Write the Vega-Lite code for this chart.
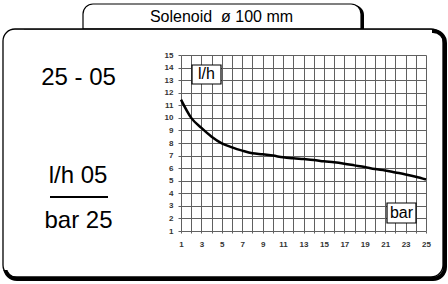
{
  "$schema": "https://vega.github.io/schema/vega-lite/v6.json",
  "width": 245,
  "height": 176,
  "autosize": {"type": "none"},
  "padding": {"left": 181, "top": 55, "right": 22, "bottom": 53},
  "background": "white",
  "config": {"view": {"stroke": null}, "font": "Liberation Sans"},
  "layer": [
    {
      "data": {"values": [{}]},
      "mark": {"type": "rect", "fill": "black", "cornerRadiusTopLeft": 10, "cornerRadiusTopRight": 10},
      "encoding": {
        "x": {"datum": -8.306, "type": "quantitative", "scale": {"domain": [1, 25], "nice": false, "zero": false}, "title": null},
        "x2": {"datum": 18.927},
        "y": {"datum": 18.977, "type": "quantitative", "scale": {"domain": [1, 15], "nice": false, "zero": false}, "title": null},
        "y2": {"datum": 17.068}
      }
    },
    {
      "data": {"values": [{}]},
      "mark": {"type": "rect", "fill": "white", "stroke": "black", "strokeWidth": 1.2, "cornerRadiusTopLeft": 10, "cornerRadiusTopRight": 10},
      "encoding": {
        "x": {"datum": -8.6, "type": "quantitative", "title": null},
        "x2": {"datum": 18.633},
        "y": {"datum": 19.057, "type": "quantitative", "title": null},
        "y2": {"datum": 17.068}
      }
    },
    {
      "data": {"values": [{}]},
      "mark": {"type": "rect", "fill": null, "fillOpacity": 0, "stroke": "black", "strokeWidth": 4, "cornerRadius": 12},
      "encoding": {
        "x": {"datum": -16.241, "type": "quantitative", "title": null},
        "x2": {"datum": 26.861},
        "y": {"datum": 16.909, "type": "quantitative", "title": null},
        "y2": {"datum": -2.818}
      }
    },
    {
      "data": {"values": [{}]},
      "mark": {"type": "rect", "fill": "white"},
      "encoding": {
        "x": {"datum": -16.731, "type": "quantitative", "title": null},
        "x2": {"datum": 25.588},
        "y": {"datum": 17.028, "type": "quantitative", "title": null},
        "y2": {"datum": 16.591}
      }
    },
    {
      "data": {"values": [{}]},
      "mark": {"type": "rect", "fill": "white"},
      "encoding": {
        "x": {"datum": -16.731, "type": "quantitative", "title": null},
        "x2": {"datum": -14.38},
        "y": {"datum": 17.028, "type": "quantitative", "title": null},
        "y2": {"datum": -2.102}
      }
    },
    {
      "data": {"values": [{}]},
      "mark": {"type": "rect", "fill": null, "fillOpacity": 0, "stroke": "black", "strokeWidth": 1.3, "cornerRadius": 12},
      "encoding": {
        "x": {"datum": -16.437, "type": "quantitative", "title": null},
        "x2": {"datum": 26.665},
        "y": {"datum": 17.068, "type": "quantitative", "title": null},
        "y2": {"datum": -2.659}
      }
    },
    {
      "data": {"values": [{}]},
      "mark": {"type": "text", "text": "Solenoid \u00a0ø 100 mm", "fontSize": 16, "font": "Liberation Sans", "color": "black", "align": "center", "baseline": "alphabetic"},
      "encoding": {
        "x": {"datum": 4.967, "type": "quantitative", "title": null},
        "y": {"datum": 17.625, "type": "quantitative", "title": null}
      }
    },
    {
      "data": {"values": [{}]},
      "mark": {"type": "text", "text": "25 - 05", "fontSize": 24, "font": "Liberation Sans", "color": "black", "align": "center", "baseline": "alphabetic"},
      "encoding": {
        "x": {"datum": -9.041, "type": "quantitative", "title": null},
        "y": {"datum": 12.614, "type": "quantitative", "title": null}
      }
    },
    {
      "data": {"values": [{}]},
      "mark": {"type": "text", "text": "l/h 05", "fontSize": 24, "font": "Liberation Sans", "color": "black", "align": "center", "baseline": "alphabetic"},
      "encoding": {
        "x": {"datum": -9.09, "type": "quantitative", "title": null},
        "y": {"datum": 4.818, "type": "quantitative", "title": null}
      }
    },
    {
      "data": {"values": [{}]},
      "mark": {"type": "rule", "color": "black", "strokeWidth": 2.2},
      "encoding": {
        "x": {"datum": -11.833, "type": "quantitative", "title": null},
        "x2": {"datum": -6.151},
        "y": {"datum": 3.705, "type": "quantitative", "title": null}
      }
    },
    {
      "data": {"values": [{}]},
      "mark": {"type": "text", "text": "bar 25", "fontSize": 24, "font": "Liberation Sans", "color": "black", "align": "center", "baseline": "alphabetic"},
      "encoding": {
        "x": {"datum": -9.041, "type": "quantitative", "title": null},
        "y": {"datum": 1.239, "type": "quantitative", "title": null}
      }
    },
    {
      "data": {"values": [
        {"bar": 1, "lh": 11.45}, {"bar": 2, "lh": 10.0}, {"bar": 3, "lh": 9.2},
        {"bar": 4, "lh": 8.5}, {"bar": 5, "lh": 7.97}, {"bar": 6, "lh": 7.65},
        {"bar": 7, "lh": 7.39}, {"bar": 8, "lh": 7.18}, {"bar": 9, "lh": 7.1},
        {"bar": 10, "lh": 7.0}, {"bar": 11, "lh": 6.86}, {"bar": 12, "lh": 6.78},
        {"bar": 13, "lh": 6.72}, {"bar": 14, "lh": 6.65}, {"bar": 15, "lh": 6.54},
        {"bar": 16, "lh": 6.46}, {"bar": 17, "lh": 6.35}, {"bar": 18, "lh": 6.22},
        {"bar": 19, "lh": 6.09}, {"bar": 20, "lh": 5.93}, {"bar": 21, "lh": 5.82},
        {"bar": 22, "lh": 5.66}, {"bar": 23, "lh": 5.5}, {"bar": 24, "lh": 5.32},
        {"bar": 25, "lh": 5.1}
      ]},
      "mark": {"type": "line", "color": "black", "strokeWidth": 2.5, "interpolate": "monotone"},
      "encoding": {
        "x": {
          "field": "bar", "type": "quantitative", "title": null,
          "axis": {
            "values": [1,2,3,4,5,6,7,8,9,10,11,12,13,14,15,16,17,18,19,20,21,22,23,24,25],
            "tickCount": 25,
            "grid": true, "gridColor": "#606060", "gridWidth": 1,
            "domain": false, "ticks": true, "tickSize": 2, "tickColor": "#606060",
            "labelExpr": "datum.value % 2 == 1 ? datum.label : ''",
            "labelFontSize": 8, "labelFontWeight": "bold", "labelColor": "#333333",
            "labelFont": "Liberation Sans", "labelPadding": 7, "labelFlush": false, "labelOverlap": false
          }
        },
        "y": {
          "field": "lh", "type": "quantitative", "title": null,
          "axis": {
            "values": [1,2,3,4,5,6,7,8,9,10,11,12,13,14,15],
            "tickCount": 15,
            "grid": true, "gridColor": "#606060", "gridWidth": 1,
            "domain": false, "ticks": true, "tickSize": 3, "tickColor": "#606060",
            "labelFontSize": 8, "labelFontWeight": "bold", "labelColor": "#333333",
            "labelFont": "Liberation Sans", "labelPadding": 5, "labelFlush": false, "labelOverlap": false
          }
        }
      }
    },
    {
      "data": {"values": [{}]},
      "mark": {"type": "rect", "fill": "white", "stroke": "black", "strokeWidth": 1.2},
      "encoding": {
        "x": {"datum": 2.078, "type": "quantitative", "title": null},
        "x2": {"datum": 4.918},
        "y": {"datum": 14.205, "type": "quantitative", "title": null},
        "y2": {"datum": 12.693}
      }
    },
    {
      "data": {"values": [{}]},
      "mark": {"type": "text", "text": "l/h", "fontSize": 16, "font": "Liberation Sans", "color": "black", "align": "center", "baseline": "middle"},
      "encoding": {
        "x": {"datum": 3.5, "type": "quantitative", "title": null},
        "y": {"datum": 13.45, "type": "quantitative", "title": null}
      }
    },
    {
      "data": {"values": [{}]},
      "mark": {"type": "rect", "fill": "white", "stroke": "black", "strokeWidth": 1.2},
      "encoding": {
        "x": {"datum": 21.18, "type": "quantitative", "title": null},
        "x2": {"datum": 24.02},
        "y": {"datum": 3.227, "type": "quantitative", "title": null},
        "y2": {"datum": 1.636}
      }
    },
    {
      "data": {"values": [{}]},
      "mark": {"type": "text", "text": "bar", "fontSize": 16, "font": "Liberation Sans", "color": "black", "align": "center", "baseline": "middle"},
      "encoding": {
        "x": {"datum": 22.6, "type": "quantitative", "title": null},
        "y": {"datum": 2.43, "type": "quantitative", "title": null}
      }
    }
  ]
}
